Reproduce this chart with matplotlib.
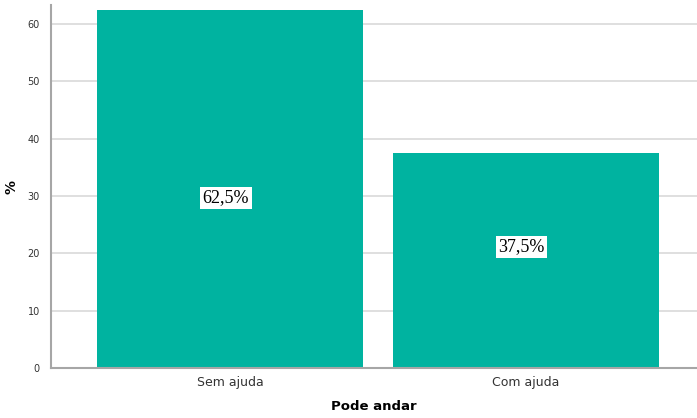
import matplotlib.pyplot as plt

categories = ["Sem ajuda", "Com ajuda"]
percent = [62.5, 37.5]
labels = ["62,5%", "37,5%"]
label_y = [29.7, 21.1]

BAR_COLOR = "#00B3A0"
GRID_COLOR = "#D9D9D9"
SPINE_COLOR = "#A6A6A6"

fig = plt.figure(figsize=(6.97, 4.18), dpi=100, facecolor="white")
ax = fig.add_axes([0.0732, 0.1196, 0.927, 0.868])

x = list(range(len(categories)))
ax.bar(x, percent, width=0.9, color=BAR_COLOR, zorder=2)

for xi, yi, txt in zip(x, label_y, labels):
    ax.text(xi - 0.015, yi, txt, ha="center", va="center", fontsize=13,
            family="Liberation Serif", color="black", zorder=3,
            bbox=dict(facecolor="white", edgecolor="none", pad=2))

ax.set_xlim(-0.607, 1.579)
ax.set_ylim(0, 63.3)
ax.set_yticks([0, 10, 20, 30, 40, 50, 60])
ax.set_xticks(x)
ax.set_xticklabels(categories)

ax.yaxis.grid(True, color=GRID_COLOR, linewidth=1.2, zorder=0)
ax.set_axisbelow(True)

for side in ["top", "right"]:
    ax.spines[side].set_visible(False)
for side in ["left", "bottom"]:
    ax.spines[side].set_color(SPINE_COLOR)
    ax.spines[side].set_linewidth(1.5)

ax.tick_params(axis="y", length=0, labelsize=7, pad=8, labelcolor="#333333")
ax.tick_params(axis="x", length=0, labelsize=9, pad=6, labelcolor="#333333")

ax.set_xlabel("Pode andar", fontsize=9.5, fontweight="bold", labelpad=8)
ax.set_ylabel("%", fontsize=10, fontweight="bold")
ax.yaxis.set_label_coords(-0.051, 0.5)

fig.savefig("out.png", dpi=100, facecolor="white")
